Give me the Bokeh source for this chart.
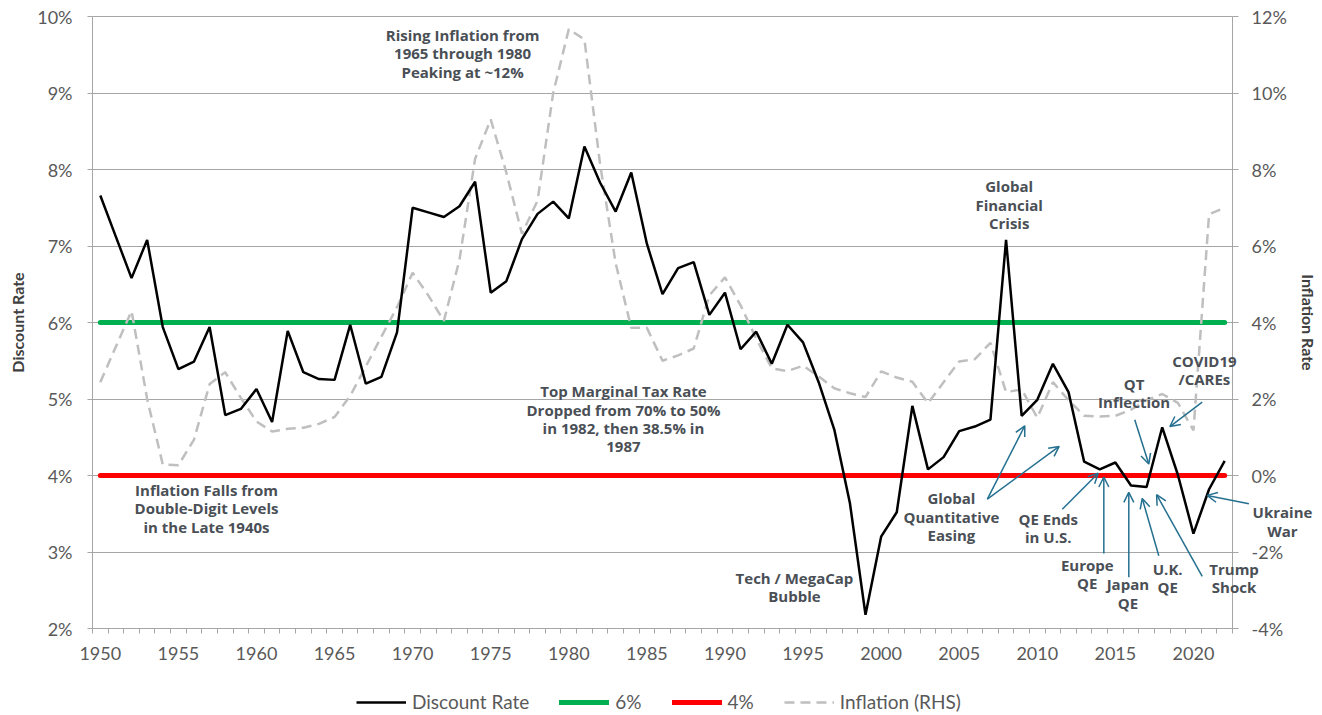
from bokeh.plotting import figure
from bokeh.models import (Range1d, LinearAxis, FixedTicker, PrintfTickFormatter,
                          Legend, LegendItem, Label, Arrow, OpenHead, ColumnDataSource,
                          BoxAnnotation)
from bokeh.core.properties import value
from bokeh.embed import file_html
from bokeh.resources import INLINE

# ---------------- data ----------------
years = list(range(1950, 2023))
discount_rate = [7.66, 7.12, 6.58, 7.08, 5.94, 5.39, 5.49, 5.94, 4.79, 4.87,
                 5.13, 4.70, 5.89, 5.35, 5.26, 5.25, 5.97, 5.20, 5.29, 5.87,
                 7.50, 7.44, 7.38, 7.52, 7.84, 6.39, 6.54, 7.09, 7.42, 7.58,
                 7.36, 8.30, 7.83, 7.45, 7.96, 7.03, 6.37, 6.71, 6.79, 6.10,
                 6.39, 5.65, 5.88, 5.46, 5.97, 5.74, 5.22, 4.60, 3.64, 2.18,
                 3.20, 3.52, 4.91, 4.08, 4.24, 4.58, 4.64, 4.73, 7.08, 4.78,
                 4.99, 5.46, 5.09, 4.18, 4.08, 4.17, 3.87, 3.85, 4.63, 4.01,
                 3.24, 3.82, 4.19]
inflation = [2.44, 3.37, 4.30, 2.00, 0.29, 0.27, 0.94, 2.39, 2.70, 2.03,
             1.41, 1.15, 1.22, 1.25, 1.35, 1.53, 2.08, 2.85, 3.63, 4.40,
             5.30, 4.71, 4.04, 5.64, 8.28, 9.31, 7.92, 6.32, 7.19, 10.00,
             11.67, 11.40, 8.15, 5.55, 3.86, 3.86, 3.00, 3.14, 3.32, 4.71,
             5.18, 4.45, 3.58, 2.80, 2.73, 2.87, 2.59, 2.28, 2.15, 2.05,
             2.72, 2.56, 2.45, 1.89, 2.44, 2.98, 3.04, 3.47, 2.18, 2.25,
             1.51, 2.44, 1.97, 1.56, 1.54, 1.56, 1.72, 1.97, 2.13, 1.90,
             1.18, 6.83, 7.00]
six_pct = [6.0] * len(years)
four_pct = [4.0] * len(years)

left_ticks = [2, 3, 4, 5, 6, 7, 8, 9, 10]
right_ticks = [-4, -2, 0, 2, 4, 6, 8, 10, 12]
x_label_ticks = list(range(1950, 2021, 5))

# annotations inside the plot area: (text, x, y)
notes = [
    ("Rising Inflation from\n1965 through 1980\nPeaking at ~12%", 1973.2, 9.52),
    ("Inflation Falls from\nDouble-Digit Levels\nin the Late 1940s", 1956.8, 3.57),
    ("Top Marginal Tax Rate\nDropped from 70% to 50%\nin 1982, then 38.5% in\n1987", 1983.5, 4.74),
    ("Tech / MegaCap\nBubble", 1994.45, 2.54),
    ("Global\nFinancial\nCrisis", 2008.2, 7.54),
    ("Global\nQuantitative\nEasing", 2004.5, 3.46),
    ("QE Ends\nin U.S.", 2010.7, 3.31),
    ("Europe\nQE", 2013.2, 2.71),
    ("Japan\nQE", 2015.8, 2.46),
    ("U.K.\nQE", 2018.35, 2.66),
    ("QT\nInflection", 2016.2, 5.08),
]
# annotations that reach past the right edge of the plot area
edge_text = ["Trump\nShock", "Ukraine\nWar", "COVID19\n/CAREs"]
edge_x = [2022.6, 2025.7, 2020.7]
edge_y = [2.66, 3.40, 5.38]

# arrows: (x_start, y_start, x_end, y_end)
arrows = [
    (2006.8, 3.69, 2009.2, 4.65),
    (2006.8, 3.69, 2011.4, 4.38),
    (2011.6, 3.56, 2013.9, 4.03),
    (2014.26, 2.98, 2014.26, 3.98),
    (2015.86, 2.67, 2015.86, 3.78),
    (2017.78, 2.95, 2016.72, 3.70),
    (2020.56, 2.68, 2017.64, 3.75),
    (2016.24, 4.73, 2017.14, 4.15),
    (2020.56, 4.96, 2018.49, 4.64),
    (2023.55, 3.63, 2020.88, 3.74),
]

# ---------------- layout / style ----------------
FONT = "Lato"
NOTE_FONT = "Open Sans"
TICK_COLOR = "#595959"
AXIS_COLOR = "#a6a6a6"
NOTE_COLOR = "#4a4f56"
ARROW_COLOR = "#24708f"

FIG_W, FIG_H = 1322, 715
AXES_LEFT, AXES_RIGHT_GAP, AXES_TOP = 92, 90, 16
AXES_W, AXES_H = FIG_W - AXES_LEFT - AXES_RIGHT_GAP, 612
X0, X1 = 1949.5, 2022.5
Y0, Y1 = 2, 10
R0, R1 = -4, 12
# the drawing area fills the whole canvas; the axes are fixed at the edges of the
# data area so that their labels and the legend around it are not clipped
left_pad = AXES_LEFT / AXES_W * (X1 - X0)
right_pad = AXES_RIGHT_GAP / AXES_W * (X1 - X0)
bottom_pad = (FIG_H - AXES_TOP - AXES_H) / AXES_H
top_pad = AXES_TOP / AXES_H

p = figure(width=FIG_W, height=FIG_H, output_backend="svg", toolbar_location=None,
           x_range=Range1d(X0 - left_pad, X1 + right_pad),
           y_range=Range1d(Y0 - (Y1 - Y0) * bottom_pad, Y1 + (Y1 - Y0) * top_pad),
           min_border_left=0, min_border_right=0,
           min_border_top=0, min_border_bottom=0)
p.extra_y_ranges = {"infl": Range1d(R0 - (R1 - R0) * bottom_pad, R1 + (R1 - R0) * top_pad)}
p.outline_line_color = None
p.background_fill_color = "white"
p.border_fill_color = "white"

p.xgrid.visible = False
grid = p.ygrid[0]
grid.ticker = FixedTicker(ticks=left_ticks)
grid.grid_line_color = "#a6a6a6"
grid.grid_line_width = 1
if "cross_bounds" in grid.properties():
    grid.cross_bounds = (X0, X1)
else:
    p.add_layout(BoxAnnotation(right=X0, fill_color="white", fill_alpha=1.0,
                               line_color=None, level="underlay"))
    p.add_layout(BoxAnnotation(left=X1, fill_color="white", fill_alpha=1.0,
                               line_color=None, level="underlay"))

# x axis, fixed at the 2% level
xa = p.xaxis[0]
xa.fixed_location = Y0
xa.bounds = (X0, X1)
xa.ticker = FixedTicker(ticks=x_label_ticks, minor_ticks=[X0 + i for i in range(74)])
xa.major_tick_out = 0
xa.major_tick_in = 0
xa.minor_tick_out = 5
xa.minor_tick_in = 0
xa.minor_tick_line_color = AXIS_COLOR
xa.axis_line_color = AXIS_COLOR
xa.major_label_text_font = FONT
xa.major_label_text_font_size = "18px"
xa.major_label_text_color = TICK_COLOR
xa.major_label_standoff = 13

# left axis, fixed at the first category edge
ya = p.yaxis[0]
ya.fixed_location = X0
ya.bounds = (Y0, Y1)
ya.ticker = FixedTicker(ticks=left_ticks)
ya.formatter = PrintfTickFormatter(format="%d%%")
ya.major_tick_out = 5
ya.major_tick_in = 0
ya.minor_tick_out = 0
ya.minor_tick_in = 0
ya.major_tick_line_color = AXIS_COLOR
ya.axis_line_color = AXIS_COLOR
ya.major_label_text_font = FONT
ya.major_label_text_font_size = "18px"
ya.major_label_text_color = TICK_COLOR
ya.major_label_standoff = 15
ya.axis_label = "Discount Rate"
ya.axis_label_text_font = FONT
ya.axis_label_text_font_style = "bold"
ya.axis_label_text_font_size = "16px"
ya.axis_label_text_color = "#404040"
ya.axis_label_standoff = 7

# right axis, fixed at the last category edge
ra = LinearAxis(y_range_name="infl", ticker=FixedTicker(ticks=right_ticks),
                formatter=PrintfTickFormatter(format="%d%%"), bounds=(R0, R1),
                fixed_location=X1)
ra.major_tick_out = 6
ra.major_tick_in = 0
ra.minor_tick_out = 0
ra.minor_tick_in = 0
ra.major_tick_line_color = AXIS_COLOR
ra.axis_line_color = AXIS_COLOR
ra.major_label_text_font = FONT
ra.major_label_text_font_size = "18px"
ra.major_label_text_color = TICK_COLOR
ra.major_label_standoff = 13
ra.axis_label = "Inflation Rate"
ra.axis_label_text_font = FONT
ra.axis_label_text_font_style = "bold"
ra.axis_label_text_font_size = "16px"
ra.axis_label_text_color = "#404040"
ra.axis_label_standoff = 9
p.add_layout(ra, "right")

# ---------------- series ----------------
r6 = p.line(years, six_pct, line_color="#00b050", line_width=5, line_cap="round")
r4 = p.line(years, four_pct, line_color="#ff0000", line_width=5, line_cap="round")
ri = p.line(years, inflation, y_range_name="infl", line_color="#bfbfbf",
            line_width=2.5, line_dash="10 6")
rd = p.line(years, discount_rate, line_color="black", line_width=2.5)

legend = Legend(items=[LegendItem(label="Discount Rate", renderers=[rd]),
                       LegendItem(label="6%", renderers=[r6]),
                       LegendItem(label="4%", renderers=[r4]),
                       LegendItem(label="Inflation (RHS)", renderers=[ri])],
                orientation="horizontal", location=(356, 2),
                margin=0, padding=0, spacing=30, glyph_width=50, glyph_height=20,
                label_standoff=6, label_text_font=FONT, label_text_font_size="19px",
                label_text_color=TICK_COLOR, border_line_color=None,
                background_fill_alpha=0)
p.add_layout(legend, "center")

for text, x, y in notes:
    p.add_layout(Label(x=x, y=y, text=text, text_align="center", text_baseline="middle",
                       text_font=NOTE_FONT, text_font_style="bold", text_font_size="15px",
                       text_color=NOTE_COLOR, text_line_height=0.92))

for xs, ys, xe, ye in arrows:
    p.add_layout(Arrow(x_start=xs, y_start=ys, x_end=xe, y_end=ye,
                       line_color=ARROW_COLOR, line_width=1.5,
                       end=OpenHead(size=10, line_color=ARROW_COLOR, line_width=1.5)))

# notes that run past the right edge of the data area
edge_src = ColumnDataSource(data=dict(x=edge_x, y=edge_y, text=edge_text))
p.text(x="x", y="y", text="text", source=edge_src, level="overlay",
       text_font=value(NOTE_FONT), text_font_style="bold", text_font_size="15px",
       text_color=NOTE_COLOR, text_align="center", text_baseline="middle",
       text_line_height=0.92)

open("out.html", "w").write(file_html(p, INLINE))
